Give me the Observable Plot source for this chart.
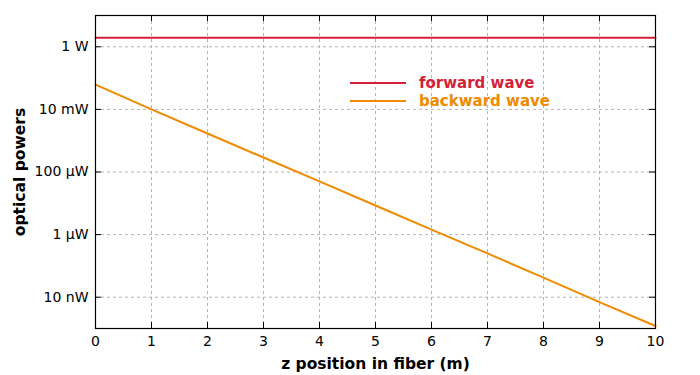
<!DOCTYPE html>
<html>
<head>
<meta charset="utf-8">
<script src="https://cdn.jsdelivr.net/npm/d3@7"></script>
<script src="https://cdn.jsdelivr.net/npm/@observablehq/plot@0.6"></script>
<style>
  html, body { margin: 0; padding: 0; background: #fff; }
  #wrap { position: relative; width: 700px; height: 375px; font-family: "DejaVu Sans", Verdana, sans-serif; }
  #wrap svg text { font-family: "DejaVu Sans", Verdana, sans-serif; }
  [aria-label="x-axis label"] text, [aria-label="y-axis label"] text { font-weight: bold; font-size: 15.5px; fill: #000; }
  .legend { position: absolute; left: 350px; top: 74px; font-weight: bold; font-size: 15px; line-height: 18px; }
  .legend .row { display: flex; align-items: center; height: 18px; }
  .legend .sw { width: 56px; height: 2px; margin-right: 13px; }
</style>
</head>
<body>
<div id="wrap"></div>
<script>
const positions = [0, 1, 2, 3, 4, 5, 6, 7, 8, 9, 10];
const forwardPower = [1.95, 1.95, 1.95, 1.95, 1.95, 1.95, 1.95, 1.95, 1.95, 1.95, 1.95];
const backwardPower = [6.2e-2, 1.0e-2, 1.7e-3, 2.9e-4, 5.0e-5, 8.5e-6, 1.45e-6, 2.5e-7, 4.2e-8, 7.0e-9, 1.2e-9];
const seriesNames = ["forward wave", "backward wave"];
const seriesColors = ["#d41f3a", "#f08a00"];
const xTicks = [0, 1, 2, 3, 4, 5, 6, 7, 8, 9, 10];
const yTicks = [1, 1e-2, 1e-4, 1e-6, 1e-8];
const yTickLabels = ["1 W", "10 mW", "100 µW", "1 µW", "10 nW"];

const rows = [];
positions.forEach((z, i) => {
  rows.push({z, p: forwardPower[i], s: seriesNames[0]});
  rows.push({z, p: backwardPower[i], s: seriesNames[1]});
});

const W = 700, H = 375, mL = 95, mR = 45, mT = 15, mB = 47;
const innerW = W - mL - mR, innerH = H - mT - mB;
const grid = {stroke: "#b4b4b4", strokeWidth: 1, strokeDasharray: "3,3", strokeOpacity: 1};

const chart = Plot.plot({
  width: W, height: H,
  marginLeft: mL, marginRight: mR, marginTop: mT, marginBottom: mB,
  style: {fontSize: "14px", color: "#000", background: "#fff"},
  x: {domain: [0, 10]},
  y: {type: "log", domain: [1e-9, 10]},
  color: {domain: seriesNames, range: seriesColors},
  marks: [
    Plot.ruleX(xTicks, {x: d => d, ...grid}),
    Plot.ruleY(yTicks, {y: d => d, ...grid}),
    Plot.line(rows, {x: "z", y: "p", z: "s", stroke: "s", strokeWidth: 2}),
    Plot.frame({stroke: "#000", strokeWidth: 1.2}),
    Plot.ruleX(xTicks, {x: d => d, insetTop: innerH - 6, stroke: "#000"}),
    Plot.ruleX(xTicks, {x: d => d, insetBottom: innerH - 6, stroke: "#000"}),
    Plot.ruleY(yTicks, {y: d => d, insetRight: innerW - 6, stroke: "#000"}),
    Plot.ruleY(yTicks, {y: d => d, insetLeft: innerW - 6, stroke: "#000"}),
    Plot.axisX({ticks: xTicks, tickSize: 0, tickPadding: 8, tickFormat: d => String(d),
      label: "z position in fiber (m)", labelAnchor: "center", labelArrow: "none", labelOffset: 40}),
    Plot.axisY({ticks: yTicks, tickSize: 0, tickPadding: 7,
      tickFormat: d => yTickLabels[yTicks.indexOf(d)],
      label: "optical powers", labelAnchor: "center", labelArrow: "none", labelOffset: 82})
  ]
});

const wrap = document.getElementById("wrap");
wrap.appendChild(chart);

const legend = document.createElement("div");
legend.className = "legend";
seriesNames.forEach((name, i) => {
  const row = document.createElement("div");
  row.className = "row";
  row.innerHTML = `<span class="sw" style="background:${seriesColors[i]}"></span><span style="color:${seriesColors[i]}">${name}</span>`;
  legend.appendChild(row);
});
wrap.appendChild(legend);
</script>
</body>
</html>
